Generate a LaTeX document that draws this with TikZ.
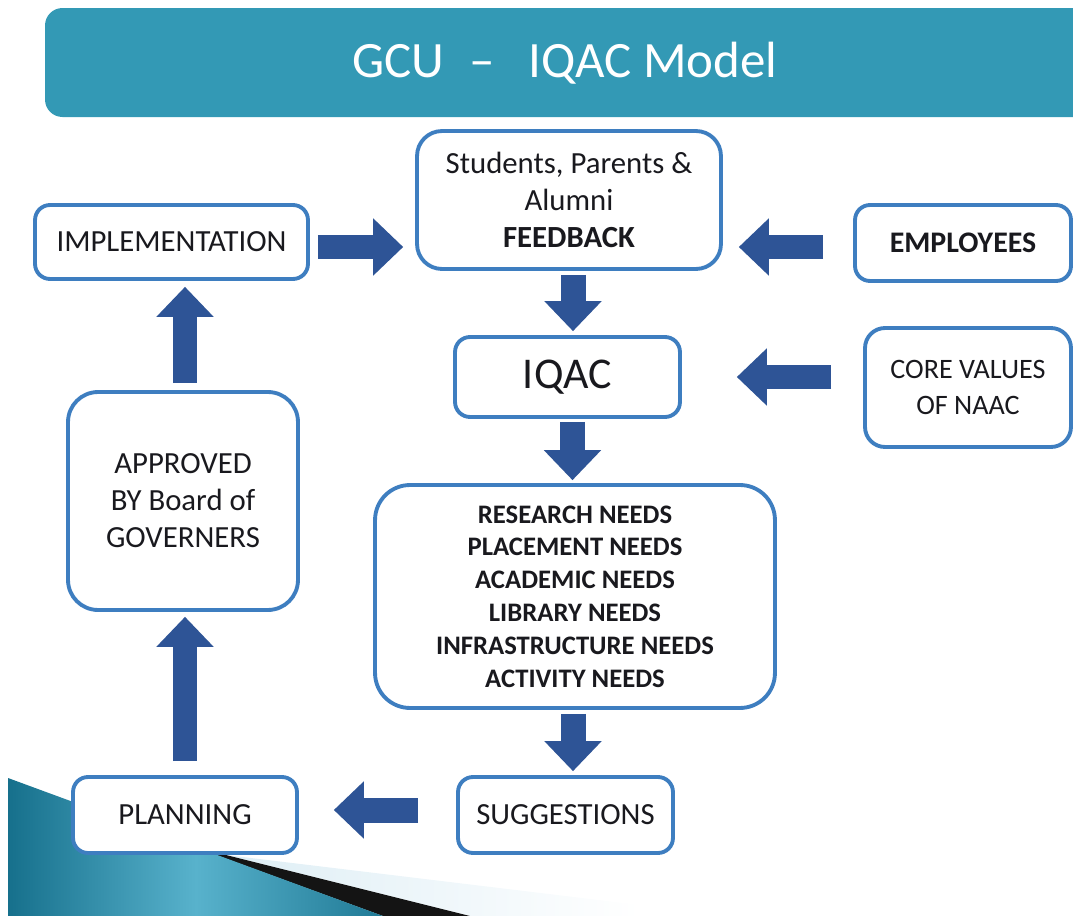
\documentclass[tikz,border=0pt]{standalone}
\usepackage{fontspec}
\setmainfont{Carlito}
\usetikzlibrary{arrows.meta,calc}
\definecolor{titlebar}{RGB}{51,153,181}
\definecolor{boxline}{RGB}{62,126,192}
\definecolor{arrowblue}{RGB}{46,84,150}
\definecolor{tealdark}{RGB}{22,112,140}
\definecolor{teallight}{RGB}{88,178,204}
\definecolor{paleblue}{RGB}{222,238,245}
\definecolor{txt}{RGB}{25,25,30}
\begin{document}
\begin{tikzpicture}[x=0.02cm,y=-0.02cm,
  box/.style={draw=boxline, line width=2.2pt, fill=white, rounded corners=0.3cm,
              align=center, text=txt, inner sep=0pt},
  barrow/.style={draw=arrowblue, line width=0.5cm,
              -{Triangle[length=0.6cm,width=1.15cm,line width=0pt]}},
  lbl/.style={font=\fontsize{17.5}{21}\selectfont},
  ]
\useasboundingbox (0,0) rectangle (1073,916);
\clip (0,0) rectangle (1073,916);

% title bar
\fill[titlebar, rounded corners=0.35cm] (45,8) rectangle (1110,117);
\node[text=white, font=\fontsize{29}{34}\selectfont] (title) at (565,63)
  {GCU\hspace{0.5em}–\hspace{0.65em}IQAC Model};

% bottom-left swoosh
\shade[left color=paleblue, right color=white] (226,855) -- (640,905) -- (640,916) -- (470,916) -- cycle;
\fill[black!92] (60,798) -- (226,855) -- (470,916) -- (383,916) -- cycle;
\shade[left color=tealdark, right color=tealdark!85!teallight, middle color=teallight]
  (8,778) -- (383,916) -- (8,916) -- cycle;

% boxes
\node[box, lbl, rounded corners=0.5cm, minimum width=6.08cm, minimum height=2.76cm] (fb) at (569,200)
  {Students, Parents \&\\Alumni\\\textbf{FEEDBACK}};
\node[box, lbl, minimum width=5.46cm, minimum height=1.48cm] (impl) at (171.5,242) {IMPLEMENTATION};
\node[box, font=\fontsize{17}{21}\bfseries\selectfont, minimum width=4.32cm, minimum height=1.52cm] (emp) at (963,243) {EMPLOYEES};
\node[box, font=\fontsize{25}{30}\selectfont, minimum width=4.5cm, minimum height=1.6cm] (iqac) at (567.5,377) {IQAC};
\node[box, font=\fontsize{16}{20}\selectfont, rounded corners=0.4cm, minimum width=4.12cm, minimum height=2.38cm] (core) at (968,387.5)
  {CORE VALUES\\OF NAAC};
\node[box, lbl, rounded corners=0.6cm, minimum width=4.6cm, minimum height=4.36cm] (appr) at (183,501)
  {APPROVED\\BY Board of\\GOVERNERS};
\node[box, font=\fontsize{15.2}{18.7}\bfseries\selectfont, rounded corners=0.7cm, minimum width=8cm, minimum height=4.46cm] (needs) at (575,596.5)
  {RESEARCH NEEDS\\PLACEMENT NEEDS\\ACADEMIC NEEDS\\LIBRARY NEEDS\\INFRASTRUCTURE NEEDS\\ACTIVITY NEEDS};
\node[box, lbl, minimum width=4.3cm, minimum height=1.52cm] (sugg) at (565.5,815) {SUGGESTIONS};
\node[box, lbl, minimum width=4.48cm, minimum height=1.52cm] (plan) at (185,815) {PLANNING};

% block arrows
\draw[barrow] ([xshift=0.16cm,yshift=-0.1cm]impl.east) -- ($([yshift=-0.1cm]impl.east -| fb.west)+(-0.24cm,0)$);
\draw[barrow] ([xshift=-0.6cm,yshift=-0.08cm]emp.west) -- ($([yshift=-0.08cm]emp.west -| fb.east)+(0.32cm,0)$);
\draw[barrow] ([xshift=0.08cm,yshift=-0.08cm]fb.south) -- ($([xshift=0.08cm]fb.south |- iqac.north)+(0,0.08cm)$);
\draw[barrow] ([xshift=-0.64cm]core.west |- iqac.east) -- ([xshift=1.1cm]iqac.east);
\draw[barrow] ([xshift=0.1cm,yshift=-0.06cm]iqac.south) -- ($([xshift=0.1cm]iqac.south |- needs.north)+(0,0.06cm)$);
\draw[barrow] ([xshift=-0.04cm,yshift=-0.08cm]needs.south) -- ($([xshift=-0.04cm]needs.south |- sugg.north)+(0,0.08cm)$);
\draw[barrow] ([xshift=-0.76cm,yshift=0.1cm]sugg.west) -- ($([yshift=0.1cm]sugg.west -| plan.east)+(0.7cm,0)$);
\draw[barrow] ([yshift=0.28cm]plan.north) -- ($(plan.north |- appr.south)+(0,-0.1cm)$);
\draw[barrow] ([xshift=0.04cm,yshift=0.14cm]appr.north) -- ($([xshift=0.04cm]appr.north |- impl.south)+(0,-0.12cm)$);
\end{tikzpicture}
\end{document}
